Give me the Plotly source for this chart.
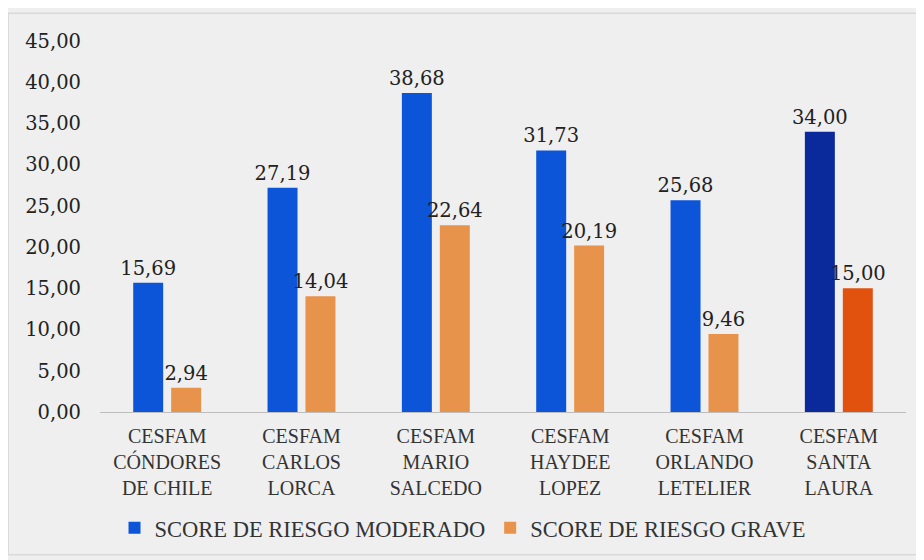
import plotly.graph_objects as go

# Data
centros = [
    "CESFAM<br>CÓNDORES<br>DE CHILE",
    "CESFAM<br>CARLOS<br>LORCA",
    "CESFAM<br>MARIO<br>SALCEDO",
    "CESFAM<br>HAYDEE<br>LOPEZ",
    "CESFAM<br>ORLANDO<br>LETELIER",
    "CESFAM<br>SANTA<br>LAURA",
]
riesgo_moderado = [15.69, 27.19, 38.68, 31.73, 25.68, 34.00]
riesgo_grave = [2.94, 14.04, 22.64, 20.19, 9.46, 15.00]

# last group is highlighted with darker colours
col_mod = ["#0d55d8"] * 5 + ["#0a2a9c"]
col_grave = ["#e8934c"] * 5 + ["#e2520f"]

num_font = dict(family="DejaVu Serif", size=19.5, color="#222222")

fig = go.Figure()
fig.add_trace(go.Bar(
    x=centros, y=riesgo_moderado, name="SCORE DE RIESGO MODERADO",
    marker=dict(color=col_mod, line=dict(width=0)),
    text=[f"{v:.2f}".replace(".", ",") for v in riesgo_moderado],
    textposition="outside", textfont=num_font, cliponaxis=False,
    constraintext="none",
))
fig.add_trace(go.Bar(
    x=centros, y=riesgo_grave, name="SCORE DE RIESGO GRAVE",
    marker=dict(color=col_grave, line=dict(width=0)),
    text=[f"{v:.2f}".replace(".", ",") for v in riesgo_grave],
    textposition="outside", textfont=num_font, cliponaxis=False,
    constraintext="none",
))

# page body adds an 8px offset, so the figure is kept 8px smaller
fig.update_layout(
    width=916, height=552,
    margin=dict(l=92, r=18, t=33, b=148, autoexpand=False),
    paper_bgcolor="#efefef", plot_bgcolor="#efefef",
    separators=",.",
    barmode="group", bargap=0.435, bargroupgap=0.21,
    showlegend=True,
    legend=dict(
        orientation="h", x=0.018, xanchor="left", y=-0.313, yanchor="middle",
        font=dict(family="Liberation Serif", size=22.5, color="#333333"),
        bgcolor="rgba(0,0,0,0)", itemwidth=30,
    ),
    shapes=[dict(
        type="rect", xref="paper", yref="paper",
        x0=-0.114, x1=1.019, y0=-0.385, y1=1.075,
        line=dict(color="#cfcfcf", width=1), fillcolor="rgba(0,0,0,0)",
    )],
)
fig.update_xaxes(
    showline=True, linecolor="#bdbdbd", linewidth=1, automargin=False,
    showgrid=False, ticks="", ticklabelstandoff=6,
    tickfont=dict(family="Liberation Serif", size=20, color="#333333"),
)
fig.update_yaxes(
    range=[0, 45], dtick=5, tickformat=".2f", automargin=False,
    showgrid=False, zeroline=False, showline=False, ticks="",
    ticklabelstandoff=18,
    tickfont=num_font,
)

fig.write_html("out.html")
